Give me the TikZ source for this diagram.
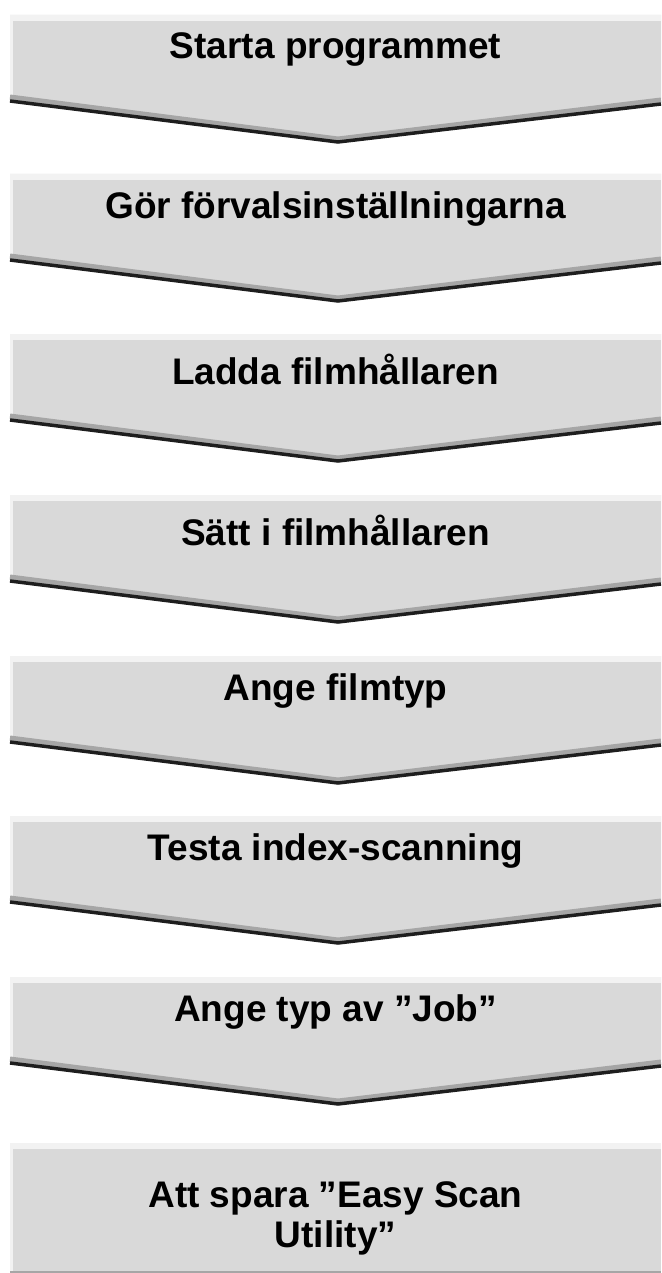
\documentclass[tikz,border=0pt]{standalone}
\usepackage{fontspec}
\setmainfont{Liberation Sans}
\definecolor{boxfill}{HTML}{D9D9D9}
\definecolor{boxtop}{HTML}{F2F2F2}
\definecolor{boxedge}{HTML}{A6A6A6}
\definecolor{boxshadow}{HTML}{1E1E1E}
\begin{document}
\begin{tikzpicture}[x=1pt,y=-1pt]
\tikzstyle{steplabel} = [font=\fontsize{37}{40}\selectfont\bfseries, align=center, inner sep=0pt]
%
\useasboundingbox (0,0) rectangle (661,1273);
%
\foreach \t/\name/\txt in {15/start/Starta programmet,
                           174/defaults/Gör förvalsinställningarna,
                           334/load/Ladda filmhållaren,
                           495/insert/Sätt i filmhållaren,
                           656/filmtype/Ange filmtyp,
                           816/index/Testa index-scanning,
                           977/job/Ange typ av ”Job”} {
  \fill [boxfill] (10,\t) -- (661,\t) -- (661,{\t+84}) -- (338,{\t+123}) -- (10,{\t+81}) -- cycle;
  \fill [boxtop] (10,\t) rectangle (661,{\t+6});
  \fill [boxtop] (10,\t) rectangle (13,{\t+81});
  \draw [boxedge, line width=5pt] (10,{\t+82}) -- (338,{\t+124}) -- (661,{\t+85});
  \draw [boxshadow, line width=3.5pt] (10,{\t+86}) -- (338,{\t+127}) -- (661,{\t+89});
  \node (\name) [steplabel] at (335.5,{\t+35}) {\txt};
}
%
\fill [boxfill] (10,1143) rectangle (661,1271);
\fill [boxtop] (10,1143) rectangle (661,1149);
\fill [boxtop] (10,1143) rectangle (13,1271);
\draw [boxedge, line width=2pt] (10,1272) -- (661,1272);
\node (save) [steplabel] at (335.5,1218) {Att spara ”Easy Scan\\Utility”};
\end{tikzpicture}
\end{document}
